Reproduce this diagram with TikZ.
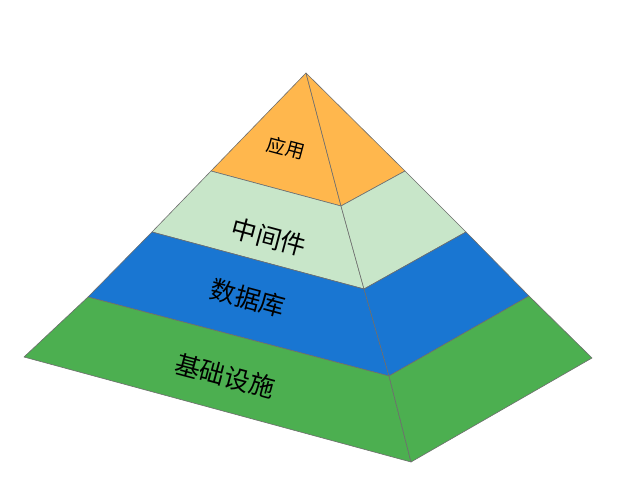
\documentclass[tikz,border=0pt]{standalone}
\usepackage{fontspec}
\newfontfamily\cjk{Noto Sans CJK SC}
\definecolor{appcolor}{HTML}{FFB74D}
\definecolor{midcolor}{HTML}{C8E6C9}
\definecolor{dbcolor}{HTML}{1976D2}
\definecolor{infracolor}{HTML}{4CAF50}
\definecolor{edgegray}{HTML}{6E6E6E}
\tikzset{
	face/.style={draw=edgegray, line width=0.6pt, line join=round},
	layertext/.style={font=\cjk\fontsize{25.5}{25.5}\selectfont, rotate=-15, inner sep=0pt}
}

\begin{document}
\begin{tikzpicture}[x=1pt, y=-1pt]
		\useasboundingbox (0,0) rectangle (642,494);
		%
		\coordinate (apex) at (306,73);
		\coordinate (appL) at (211,171);
		\coordinate (appF) at (341,206);
		\coordinate (appR) at (405,171);
		\coordinate (midL) at (152,232);
		\coordinate (midF) at (364,289);
		\coordinate (midR) at (466,232);
		\coordinate (dbL) at (88,297);
		\coordinate (dbF) at (389,376);
		\coordinate (dbR) at (529,296);
		\coordinate (infL) at (24,357);
		\coordinate (infF) at (411,462);
		\coordinate (infR) at (592,358);
		%
		\filldraw[face, fill=appcolor] (apex) -- (appF) -- (appL) -- cycle;
		\filldraw[face, fill=appcolor] (apex) -- (appR) -- (appF) -- cycle;
		%
		\filldraw[face, fill=midcolor] (appL) -- (appF) -- (midF) -- (midL) -- cycle;
		\filldraw[face, fill=midcolor] (appF) -- (appR) -- (midR) -- (midF) -- cycle;
		%
		\filldraw[face, fill=dbcolor] (midL) -- (midF) -- (dbF) -- (dbL) -- cycle;
		\filldraw[face, fill=dbcolor] (midF) -- (midR) -- (dbR) -- (dbF) -- cycle;
		%
		\filldraw[face, fill=infracolor] (dbL) -- (dbF) -- (infF) -- (infL) -- cycle;
		\filldraw[face, fill=infracolor] (dbF) -- (dbR) -- (infR) -- (infF) -- cycle;
		%
		\node (app) [layertext, font=\cjk\fontsize{19}{19}\selectfont] at (286,148) {应用};
		\node (mid) [layertext] at (269,237) {中间件};
		\node (db) [layertext] at (248,298) {数据库};
		\node (infra) [layertext] at (225,376) {基础设施};
	\end{tikzpicture}
\end{document}
